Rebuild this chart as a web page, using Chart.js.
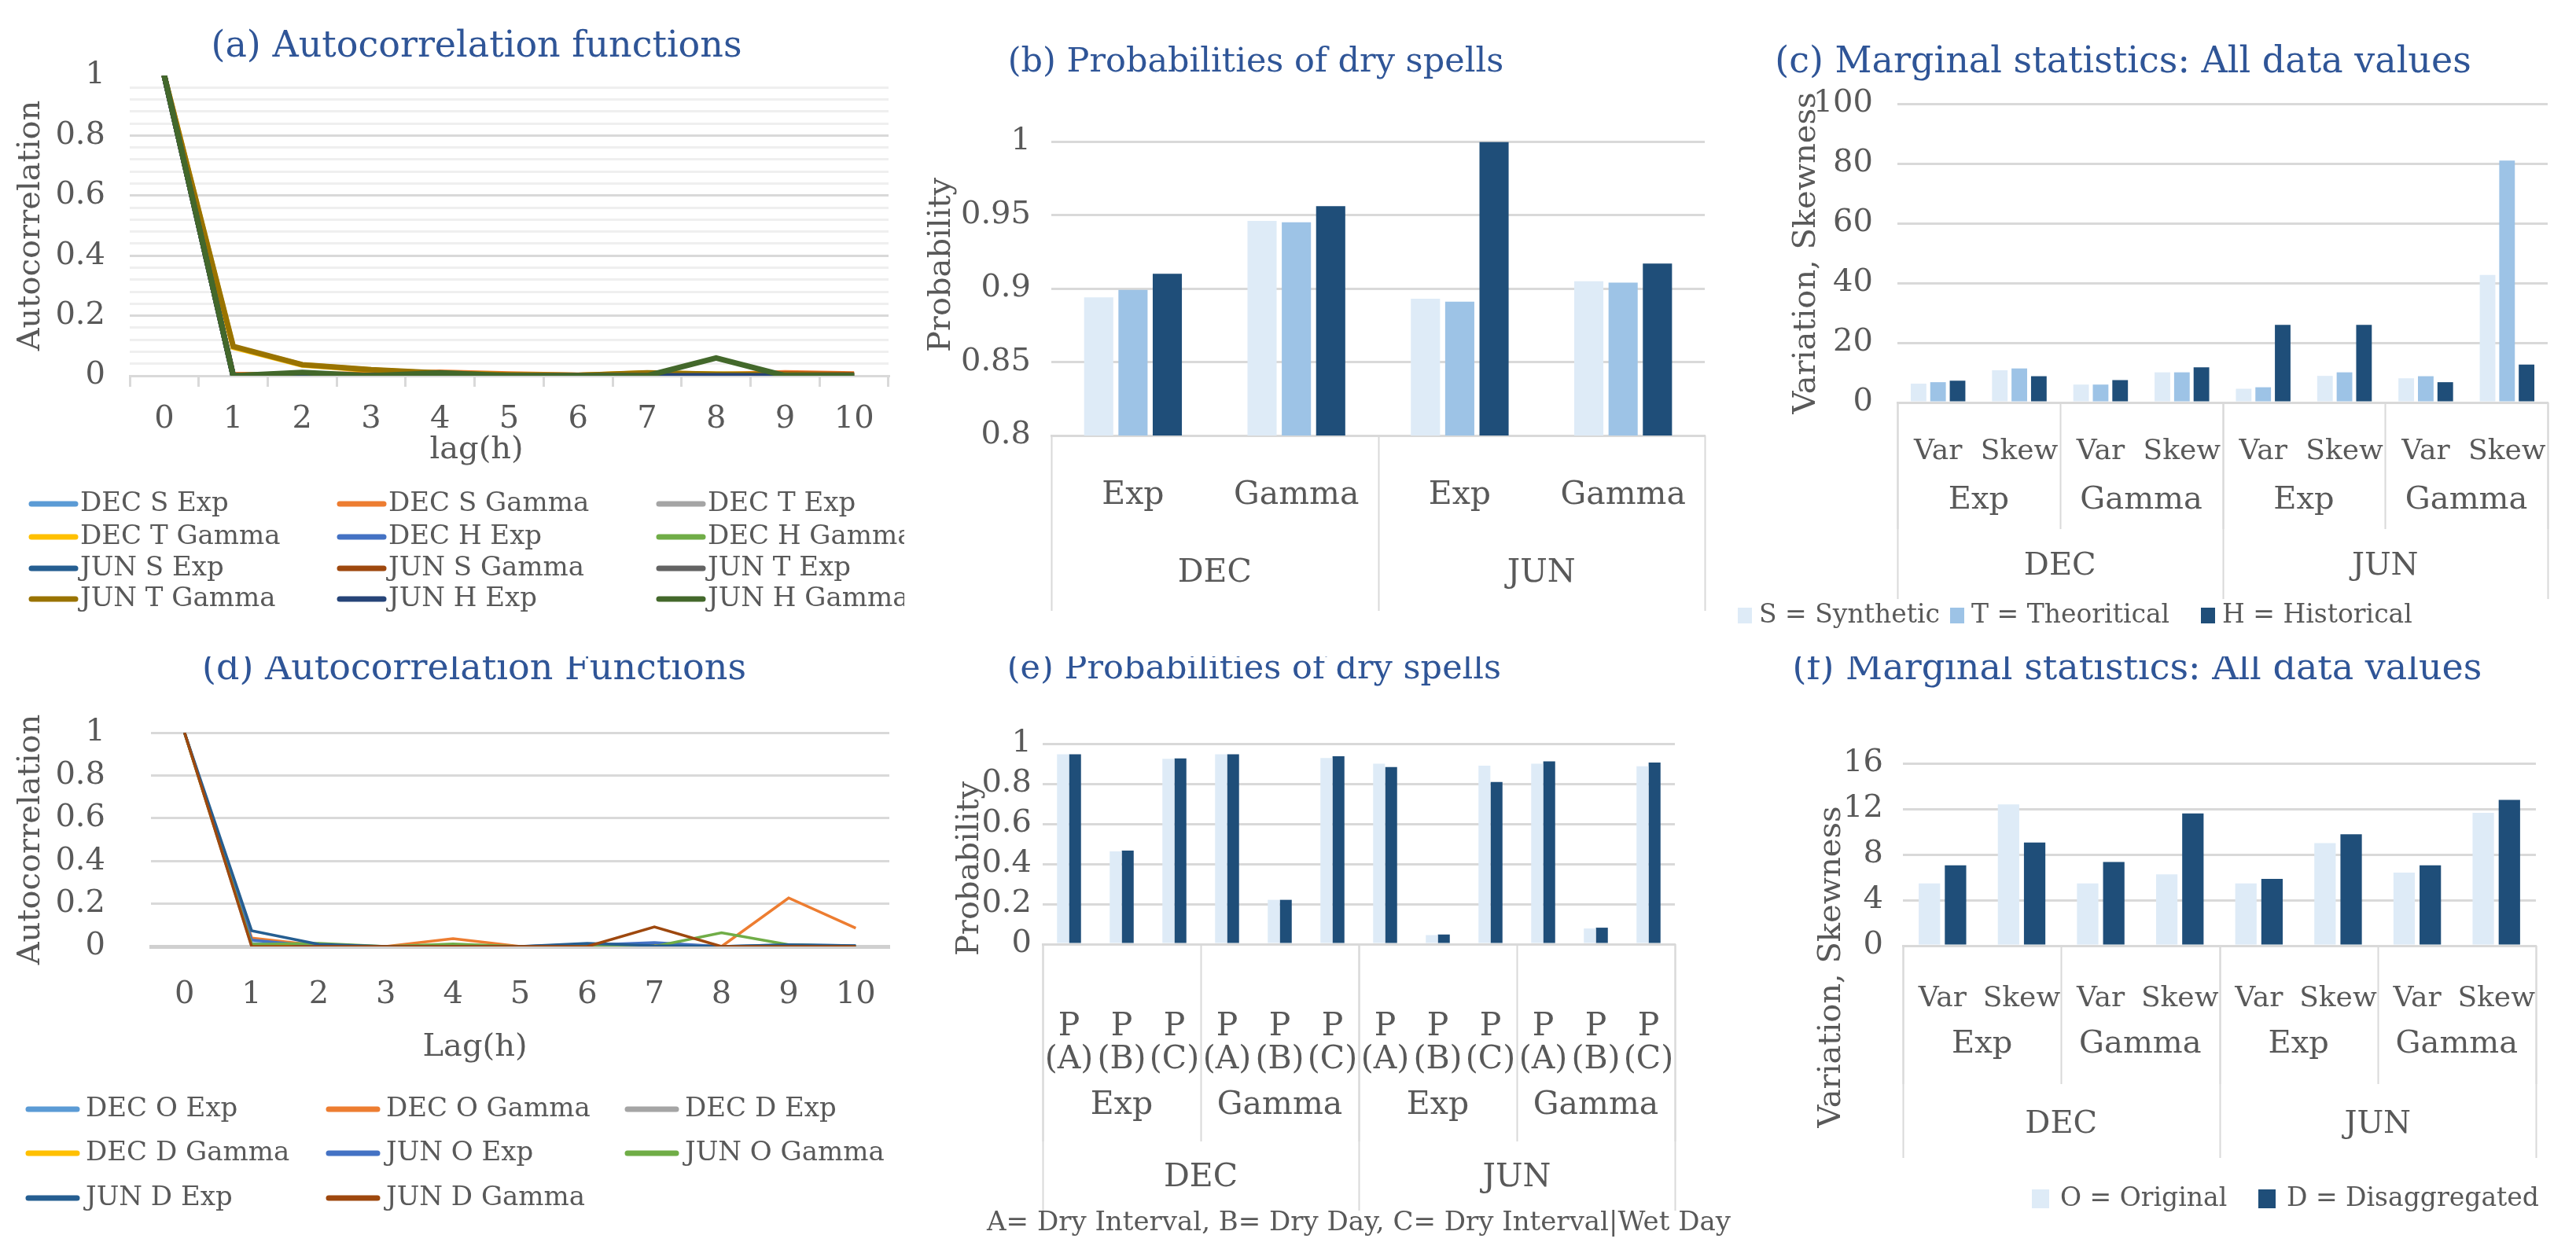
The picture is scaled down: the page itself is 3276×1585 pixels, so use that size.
<!DOCTYPE html>
<html><head><meta charset="utf-8">
<script src="https://cdn.jsdelivr.net/npm/chart.js@4.4.1/dist/chart.umd.min.js"></script>
<style>
html,body{margin:0;padding:0;background:#fff;}
#root{position:relative;width:3276px;height:1585px;overflow:hidden;background:#fff;}
canvas{position:absolute;}
</style></head>
<body><div id="root"></div>
<script>
// ---------------- DATA ----------------
const lags = ['0','1','2','3','4','5','6','7','8','9','10'];

// (a) autocorrelation functions
const acfA_names = ['DEC S Exp','DEC S Gamma','DEC T Exp','DEC T Gamma','DEC H Exp','DEC H Gamma',
                    'JUN S Exp','JUN S Gamma','JUN T Exp','JUN T Gamma','JUN H Exp','JUN H Gamma'];
const decSExp   = [1,0,0,0,0,0,0,0,0,0,0];
const decSGamma = [1,0.004,0.004,0.006,0.012,0.006,0.002,0.005,0.003,0.010,0.006];
const decTExp   = [1,0,0,0,0,0,0,0,0,0,0];
const decTGamma = [1,0.095,0.036,0.019,0.008,0.003,0.001,0.009,0.005,0.004,0.002];
const decHExp   = [1,0,0,0,0,0,0,0,0,0,0];
const decHGamma = [1,0,0.008,0,0.006,0,0,0,0.003,0,0];
const junSExp   = [1,0,0,0,0,0,0,0,0,0,0];
const junSGamma = [1,0,0.003,0.002,0.004,0.002,0,0.004,0.002,0.006,0.004];
const junTExp   = [1,0,0,0,0,0,0,0,0,0,0];
const junTGamma = [1,0.098,0.037,0.020,0.009,0.003,0.001,0.010,0.005,0.004,0.002];
const junHExp   = [1,0,0,0,0,0,0,0,0,0,0];
const junHGamma = [1,0,0.011,0,0.010,0,0,0,0.059,0,0];

// (d) autocorrelation functions
const acfD_names = ['DEC O Exp','DEC O Gamma','DEC D Exp','DEC D Gamma','JUN O Exp','JUN O Gamma','JUN D Exp','JUN D Gamma'];
const decOExp   = [1,0.015,0.004,0,0.005,0,0.010,0.008,0,0.008,0.004];
const decOGamma = [1,0.040,0.005,0,0.037,0,0.005,0.010,0,0.227,0.086];
const decDExp   = [1,0,0,0,0,0,0,0,0,0,0];
const decDGamma = [1,0.010,0,0,0,0,0,0.015,0,0,0];
const junOExp   = [1,0.030,0,0,0.004,0,0.006,0.018,0,0.004,0];
const junOGamma = [1,0.010,0.015,0,0.012,0,0,0,0.064,0.008,0];
const junDExp   = [1,0.074,0.010,0,0,0,0.015,0.004,0,0.008,0.004];
const junDGamma = [1,0,0,0,0,0,0,0.092,0,0,0];

// category groups
const months = ['DEC','JUN'];
const dists  = ['Exp','Gamma'];
const stats  = ['Var','Skew'];
const probs  = [['P','(A)'],['P','(B)'],['P','(C)']];

// (b) probabilities of dry spells
const probB_S = [0.894,0.946,0.893,0.905];
const probB_T = [0.899,0.945,0.891,0.904];
const probB_H = [0.910,0.956,0.9996,0.917];

// (c) marginal statistics
const statC_S = [6.3,10.8,6.0,10.1,4.6,8.9,8.1,42.7];
const statC_T = [6.8,11.4,6.0,10.1,5.1,10.1,8.8,81.0];
const statC_H = [7.3,8.8,7.5,11.8,26.0,26.0,6.8,12.7];

// (e) probabilities of dry spells
const probE_O = [0.947,0.463,0.925,0.947,0.221,0.928,0.900,0.045,0.890,0.900,0.078,0.887];
const probE_D = [0.947,0.467,0.926,0.947,0.221,0.937,0.883,0.048,0.809,0.912,0.082,0.906];

// (f) marginal statistics
const statF_O = [5.46,12.4,5.46,6.26,5.46,9.0,6.42,11.65];
const statF_D = [7.06,9.06,7.34,11.6,5.87,9.77,7.06,12.8];

// ---------------- STYLE ----------------
const FONT = "'DejaVu Serif','Liberation Serif',serif";
const GRAY = '#595959', GRID = '#d9d9d9', TCOL = '#2f5597';
const lineColsA = ['#5b9bd5','#ed7d31','#a5a5a5','#ffc000','#4472c4','#70ad47','#255e91','#9e480e','#636363','#997300','#264478','#43682b'];
const lineColsD = ['#5b9bd5','#ed7d31','#a5a5a5','#ffc000','#4472c4','#70ad47','#255e91','#9e480e'];
const C_LIGHT = '#deebf7', C_MID = '#9dc3e6', C_DARK = '#1f4e79';

const root = document.getElementById('root');

const decor = {
  id: 'decor',
  afterDraw(chart, args, o) {
    const ctx = chart.ctx, ox = o.ox, oy = o.oy;
    ctx.save();
    const text = (s, x, y, size, color, rot, align) => {
      ctx.save();
      ctx.font = size + 'px ' + FONT;
      ctx.fillStyle = color; ctx.textAlign = align || 'center'; ctx.textBaseline = 'middle';
      ctx.translate(x - ox, y - oy);
      if (rot) ctx.rotate(rot);
      ctx.fillText(s, 0, 0);
      ctx.restore();
    };
    (o.texts || []).forEach(t => text(t.s, t.x, t.y, t.size, t.color || GRAY, t.rot ? -Math.PI/2 : 0));
    if (o.groups) {
      const xs = chart.scales.x, n = chart.data.labels.length, cw = (xs.right - xs.left) / n;
      const bx = i => xs.left + i * cw;
      o.groups.forEach(g => {
        ctx.strokeStyle = GRID; ctx.lineWidth = 2;
        for (let k = 0; k <= n; k += g.span) {
          ctx.beginPath(); ctx.moveTo(Math.round(bx(k)) + 0.5, xs.top); ctx.lineTo(Math.round(bx(k)) + 0.5, g.lineTo - oy); ctx.stroke();
        }
        for (let j = 0; j < n / g.span; j++) {
          const cx = (bx(j * g.span) + bx((j + 1) * g.span)) / 2 + ox;
          text(g.labels[j % g.labels.length], cx, g.y, g.size || 41, GRAY, 0);
        }
      });
    }
    if (o.legend) {
      const L = o.legend;
      chart.data.datasets.forEach((ds, i) => {
        const c = i % L.cols.length, r = Math.floor(i / L.cols.length);
        const sx = L.cols[c], sy = L.rows[r];
        if (L.type === 'line') {
          ctx.strokeStyle = ds.borderColor; ctx.lineWidth = L.thick; ctx.lineCap = 'round';
          ctx.beginPath(); ctx.moveTo(sx - ox, sy - oy); ctx.lineTo(sx + L.len - ox, sy - oy); ctx.stroke();
        } else {
          ctx.fillStyle = ds.backgroundColor;
          ctx.fillRect(sx - ox, sy - L.bh / 2 - oy, L.bw, L.bh);
        }
        text(ds.label, sx + L.off, sy, L.size, GRAY, 0, 'left');
      });
    }
    ctx.restore();
  }
};

function makeChart(box, area, type, labels, datasets, yOpts, xOpts, decorOpts) {
  const cv = document.createElement('canvas');
  cv.width = box.w; cv.height = box.h;
  cv.style.left = box.x + 'px'; cv.style.top = box.y + 'px';
  cv.style.width = box.w + 'px'; cv.style.height = box.h + 'px';
  root.appendChild(cv);
  decorOpts.ox = box.x; decorOpts.oy = box.y;
  const xHeight = box.y + box.h - area.B;
  const yWidth = area.L - box.x;
  return new Chart(cv.getContext('2d'), {
    type: type,
    data: { labels: labels, datasets: datasets },
    plugins: [decor],
    options: {
      responsive: false, animation: false, devicePixelRatio: 1,
      layout: { padding: { left: 0, top: area.T - box.y, right: box.x + box.w - area.R, bottom: 0 } },
      plugins: { legend: { display: false }, title: { display: false }, tooltip: { enabled: false }, decor: decorOpts },
      scales: {
        x: Object.assign({
          offset: true,
          grid: { display: false },
          border: { display: true, color: GRID, width: 3 },
          ticks: { color: GRAY, font: { family: FONT, size: 41 }, autoSkip: false, maxRotation: 0, minRotation: 0 },
          afterFit: s => { s.height = xHeight; }
        }, xOpts),
        y: Object.assign({
          border: { display: false },
          grid: { color: GRID, lineWidth: 3, drawTicks: false },
          ticks: { color: GRAY, font: { family: FONT, size: 40 }, autoSkip: false },
          afterFit: s => { s.width = yWidth; }
        }, yOpts)
      }
    }
  });
}

function lineSets(names, arrays, cols, width) {
  const n = names.length;
  return names.map((nm, i) => ({
    label: nm, data: arrays[i], borderColor: cols[i], backgroundColor: cols[i],
    borderWidth: width, pointRadius: 0, tension: 0, fill: false, order: n - 1 - i
  }));
}
function fmt(v) { return String(Math.round(v * 100) / 100); }
const tk = (extra) => Object.assign({ color: GRAY, font: { family: FONT, size: 40 }, autoSkip: false }, extra);
const xk = (extra) => Object.assign({ color: GRAY, font: { family: FONT, size: 41 }, autoSkip: false, maxRotation: 0, minRotation: 0 }, extra);

// ---------------- (a) ----------------
makeChart({x:0,y:0,w:1150,h:835}, {L:165,R:1130,T:96,B:478}, 'line', lags,
  lineSets(acfA_names, [decSExp,decSGamma,decTExp,decTGamma,decHExp,decHGamma,junSExp,junSGamma,junTExp,junTGamma,junHExp,junHGamma], lineColsA, 7),
  { min: 0, max: 1,
    ticks: tk({ stepSize: 0.04, padding: 31, callback: v => (Math.round(v * 100) % 20 === 0) ? fmt(v) : '' }),
    grid: { drawTicks: false, lineWidth: 3,
            color: c => { const v = c.tick ? c.tick.value : 0; if (v > 0.999) return 'rgba(0,0,0,0)'; return (Math.round(v * 100) % 20 === 0) ? GRID : '#efefef'; } } },
  { grid: { display: true, drawOnChartArea: false, drawTicks: true, tickLength: 14, offset: true, color: GRID, lineWidth: 3 },
    ticks: xk({ font: { family: FONT, size: 40 }, padding: 18 }) },
  { texts: [
      { s: '(a) Autocorrelation functions', x: 606, y: 60, size: 46, color: TCOL },
      { s: 'Autocorrelation', x: 40, y: 287, size: 40, rot: true },
      { s: 'lag(h)', x: 606, y: 573, size: 40 } ],
    legend: { type: 'line', cols: [40, 432, 838], rows: [641, 683, 723, 762], len: 56, thick: 7, off: 62, size: 34 } });

// ---------------- (b) ----------------
const labelsB = months.flatMap(() => dists);
makeChart({x:1150,y:0,w:1040,h:835}, {L:1337,R:2173,T:180,B:554}, 'bar', labelsB,
  [ { label: 'S = Synthetic', data: probB_S, backgroundColor: C_LIGHT },
    { label: 'T = Theoritical', data: probB_T, backgroundColor: C_MID },
    { label: 'H = Historical', data: probB_H, backgroundColor: C_DARK } ].map(d => Object.assign(d, { categoryPercentage: 0.63, barPercentage: 0.85 })),
  { min: 0.8, max: 1, ticks: tk({ stepSize: 0.05, padding: 26, callback: v => fmt(v) }) },
  { ticks: xk({ padding: 44 }) },
  { texts: [
      { s: '(b) Probabilities of dry spells', x: 1597, y: 80, size: 43, color: TCOL },
      { s: 'Probability', x: 1198, y: 337, size: 40, rot: true } ],
    groups: [ { labels: months, span: 2, y: 729, lineTo: 777 } ] });

// ---------------- (c) ----------------
const labelsC = months.flatMap(() => dists.flatMap(() => stats));
makeChart({x:2190,y:0,w:1086,h:835}, {L:2413,R:3240,T:132,B:512}, 'bar', labelsC,
  [ { label: 'S = Synthetic', data: statC_S, backgroundColor: C_LIGHT },
    { label: 'T = Theoritical', data: statC_T, backgroundColor: C_MID },
    { label: 'H = Historical', data: statC_H, backgroundColor: C_DARK } ].map(d => Object.assign(d, { categoryPercentage: 0.72, barPercentage: 0.8 })),
  { min: 0, max: 100, ticks: tk({ stepSize: 20, padding: 31 }) },
  { ticks: xk({ font: { family: FONT, size: 36 }, padding: 33 }) },
  { texts: [
      { s: '(c) Marginal statistics: All data values', x: 2700, y: 80, size: 46, color: TCOL },
      { s: 'Variation, Skewness', x: 2298, y: 322, size: 40, rot: true } ],
    groups: [ { labels: dists, span: 2, y: 637, lineTo: 673, size: 40 }, { labels: months, span: 4, y: 721, lineTo: 762, size: 40 } ],
    legend: { type: 'box', cols: [2210, 2480, 2799], rows: [783], bw: 18, bh: 20, off: 27, size: 33 } });

// ---------------- (d) ----------------
makeChart({x:0,y:835,w:1150,h:750}, {L:192,R:1131,T:932,B:1204}, 'line', lags,
  lineSets(acfD_names, [decOExp,decOGamma,decDExp,decDGamma,junOExp,junOGamma,junDExp,junDGamma], lineColsD, 3.5),
  { min: 0, max: 1, ticks: tk({ stepSize: 0.2, padding: 58, callback: v => fmt(v) }) },
  { border: { display: true, color: '#d0d0d0', width: 5 },
    ticks: xk({ font: { family: FONT, size: 40 }, padding: 30 }) },
  { texts: [
      { s: '(d) Autocorrelation Functions', x: 603, y: 852, size: 46, color: TCOL },
      { s: 'Autocorrelation', x: 40, y: 1068, size: 40, rot: true },
      { s: 'Lag(h)', x: 604, y: 1333, size: 40 } ],
    legend: { type: 'line', cols: [36, 418, 798], rows: [1411, 1467, 1524], len: 62, thick: 7, off: 73, size: 34 } });

// ---------------- (e) ----------------
const labelsE = months.flatMap(() => dists.flatMap(() => probs));
makeChart({x:1150,y:835,w:1090,h:750}, {L:1326,R:2130,T:946,B:1201}, 'bar', labelsE,
  [ { label: 'O = Original', data: probE_O, backgroundColor: C_LIGHT },
    { label: 'D = Disaggregated', data: probE_D, backgroundColor: C_DARK } ].map(d => Object.assign(d, { categoryPercentage: 0.46, barPercentage: 0.98 })),
  { min: 0, max: 1, ticks: tk({ stepSize: 0.2, padding: 14, callback: v => fmt(v) }) },
  { ticks: xk({ font: { family: FONT, size: 41, lineHeight: 1.03 }, padding: 76 }) },
  { texts: [
      { s: '(e) Probabilities of dry spells', x: 1595, y: 852, size: 43, color: TCOL },
      { s: 'Probability', x: 1234, y: 1105, size: 40, rot: true },
      { s: 'A= Dry Interval, B= Dry Day, C= Dry Interval|Wet Day', x: 1728, y: 1556, size: 34 } ],
    groups: [ { labels: dists, span: 3, y: 1406, lineTo: 1452 }, { labels: months, span: 6, y: 1498, lineTo: 1540 } ] });

// ---------------- (f) ----------------
const labelsF = months.flatMap(() => dists.flatMap(() => stats));
makeChart({x:2240,y:835,w:1036,h:750}, {L:2420,R:3225,T:971,B:1203}, 'bar', labelsF,
  [ { label: 'O = Original', data: statF_O, backgroundColor: C_LIGHT },
    { label: 'D = Disaggregated', data: statF_D, backgroundColor: C_DARK } ].map(d => Object.assign(d, { categoryPercentage: 0.66, barPercentage: 0.82 })),
  { min: 0, max: 16, ticks: tk({ stepSize: 4, padding: 25 }) },
  { ticks: xk({ font: { family: FONT, size: 36 }, padding: 38 }) },
  { texts: [
      { s: '(f) Marginal statistics: All data values', x: 2718, y: 852, size: 46, color: TCOL },
      { s: 'Variation, Skewness', x: 2330, y: 1230, size: 40, rot: true } ],
    groups: [ { labels: dists, span: 2, y: 1329, lineTo: 1379, size: 40 }, { labels: months, span: 4, y: 1431, lineTo: 1473, size: 40 } ],
    legend: { type: 'box', cols: [2584, 2872], rows: [1525], bw: 22, bh: 24, off: 36, size: 33 } });
</script>
</body></html>
